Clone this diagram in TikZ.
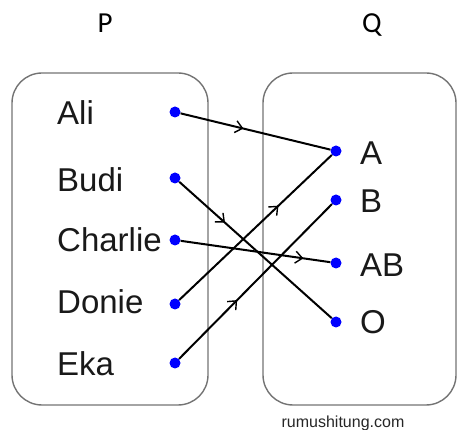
\documentclass[tikz,border=0pt]{standalone}
\usepackage{fontspec}
\setmainfont{Liberation Sans}
\newfontfamily\headfont{Carlito}
\usetikzlibrary{arrows.meta,decorations.markings}
\begin{document}
\begin{tikzpicture}[x=1pt,y=-1pt,
  setbox/.style={draw=black!55, line width=1.4pt, rounded corners=30pt},
  dot/.style={circle, fill=blue, inner sep=0pt, minimum size=11pt},
  elem/.style={anchor=base west, inner sep=0pt, text=black!90,
    font=\fontsize{33}{36}\selectfont},
  head/.style={anchor=base, inner sep=0pt, font=\headfont\fontsize{29}{33}\selectfont},
  map/.style={draw=black, line width=2pt, postaction={decorate},
    decoration={markings, mark=at position #1 with
      {\arrow{Straight Barb[length=7pt,width=12pt,line width=1.4pt]}}}},
]
\useasboundingbox (0,0) rectangle (458,430);

% set headings
\node[head] (P) at (105,33) {P};
\node[head] (Q) at (372,33) {Q};

% the two sets
\draw[setbox] (12,73) rectangle (208,405);
\draw[setbox] (263,73) rectangle (456,405);

% domain elements
\node[elem] (tAli)     at (57,125) {Ali};
\node[elem] (tBudi)    at (57,192) {Budi};
\node[elem] (tCharlie) at (57,252) {Charlie};
\node[elem] (tDonie)   at (57,314) {Donie};
\node[elem] (tEka)     at (57,376) {Eka};

% codomain elements
\node[elem] (tA)  at (360,165) {A};
\node[elem] (tB)  at (360,213) {B};
\node[elem] (tAB) at (360,277) {AB};
\node[elem] (tO)  at (360,334) {O};

% points
\node[dot] (ali)     at (175,112) {};
\node[dot] (budi)    at (175,178) {};
\node[dot] (charlie) at (175,240) {};
\node[dot] (donie)   at (175,304) {};
\node[dot] (eka)     at (175,363) {};
\node[dot] (a)  at (336,151) {};
\node[dot] (b)  at (336,200) {};
\node[dot] (ab) at (336,263) {};
\node[dot] (o)  at (336,322) {};

% the relation
\draw[map=0.42] (ali) -- (a);
\draw[map=0.30] (budi) -- (o);
\draw[map=0.82] (charlie) -- (ab);
\draw[map=0.65] (donie) -- (a);
\draw[map=0.38] (eka) -- (b);

% source
\node[anchor=base, inner sep=0pt, font=\fontsize{16}{18}\selectfont, text=black!85]
  (src) at (343,427) {rumushitung.com};
\end{tikzpicture}
\end{document}
